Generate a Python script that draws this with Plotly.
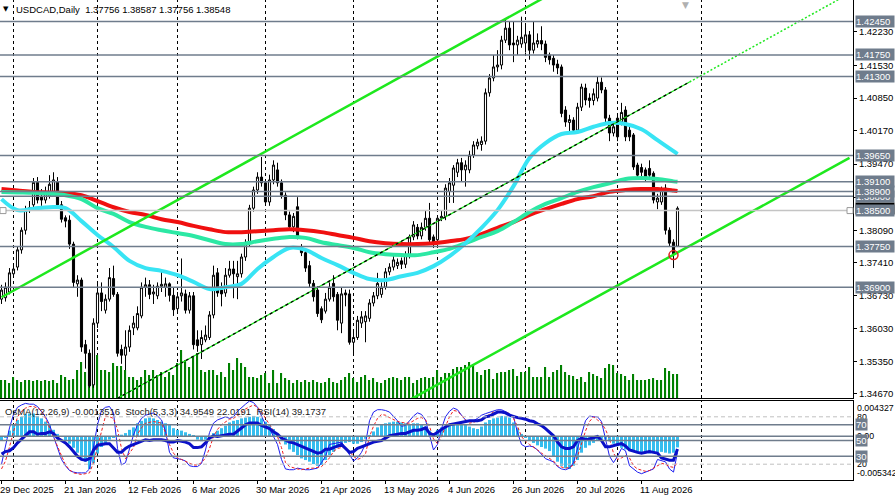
import pandas as pd
import plotly.graph_objects as go

# daily bars, this feed has no bar on 1 Jan
dates = [d for d in pd.bdate_range("2025-12-29", "2026-09-30") if d != pd.Timestamp("2026-01-01")]

open_ = [
    1.3665, 1.3668, 1.3680, 1.3718, 1.3732, 1.3768, 1.3809, 1.3851, 1.3862, 1.3909,
    1.3878, 1.3872, 1.3880, 1.3885, 1.3910, 1.3862, 1.3835, 1.3830, 1.3780, 1.3697,
    1.3705, 1.3570, 1.3552, 1.3486, 1.3615, 1.3678, 1.3642, 1.3665, 1.3708, 1.3675,
    1.3560, 1.3548, 1.3565, 1.3605, 1.3605, 1.3630, 1.3690, 1.3695, 1.3676, 1.3672,
    1.3692, 1.3690, 1.3697, 1.3673, 1.3645, 1.3672, 1.3676, 1.3642, 1.3672, 1.3580,
    1.3570, 1.3580, 1.3585, 1.3632, 1.3720, 1.3684, 1.3678, 1.3715, 1.3728, 1.3712,
    1.3718, 1.3753, 1.3782, 1.3855, 1.3893, 1.3920, 1.3908, 1.3868, 1.3914, 1.3935,
    1.3908, 1.3882, 1.3841, 1.3816, 1.3858, 1.3775, 1.3762, 1.3735, 1.3698, 1.3684,
    1.3645, 1.3640, 1.3665, 1.3698, 1.3675, 1.3615, 1.3678, 1.3676, 1.3575, 1.3585,
    1.3615, 1.3618, 1.3625, 1.3657, 1.3672, 1.3675, 1.3690, 1.3722, 1.3732, 1.3735,
    1.3745, 1.3738, 1.3757, 1.3795, 1.3815, 1.3797, 1.3815, 1.3834, 1.3795, 1.3789,
    1.3834, 1.3838, 1.3890, 1.3903, 1.3930, 1.3950, 1.3935, 1.3935, 1.3966, 1.3985,
    1.3988, 1.3995, 1.4096, 1.4127, 1.4150, 1.4154, 1.4206, 1.4231, 1.4200, 1.4196,
    1.4198, 1.4200, 1.4217, 1.4185, 1.4198, 1.4205, 1.4198, 1.4175, 1.4168, 1.4156,
    1.4150, 1.4060, 1.4034, 1.4039, 1.4018, 1.4066, 1.4106, 1.4085, 1.4080, 1.4085,
    1.4118, 1.4102, 1.4043, 1.4012, 1.4043, 1.4035, 1.4060, 1.4018, 1.4008, 1.3945,
    1.3940, 1.3935, 1.3938, 1.3928, 1.3868, 1.3868, 1.3897, 1.3809, 1.3784, 1.37756,
]
high = [
    1.3695, 1.3700, 1.3730, 1.3740, 1.3775, 1.3815, 1.3860, 1.3870, 1.3918, 1.3920,
    1.3895, 1.3900, 1.3924, 1.3930, 1.3920, 1.3870, 1.3840, 1.3840, 1.3785, 1.3715,
    1.3710, 1.3580, 1.3560, 1.3625, 1.3700, 1.3700, 1.3675, 1.3730, 1.3735, 1.3680,
    1.3570, 1.3600, 1.3610, 1.3630, 1.3650, 1.3700, 1.3710, 1.3705, 1.3695, 1.3700,
    1.3725, 1.3710, 1.3700, 1.3690, 1.3680, 1.3750, 1.3685, 1.3680, 1.3680, 1.3600,
    1.3600, 1.3610, 1.3640, 1.3735, 1.3730, 1.3700, 1.3730, 1.3745, 1.3745, 1.3745,
    1.3760, 1.3790, 1.3862, 1.3900, 1.3930, 1.3962, 1.3915, 1.3925, 1.3955, 1.3950,
    1.3915, 1.3888, 1.3848, 1.3845, 1.3878, 1.3780, 1.3770, 1.3745, 1.3705, 1.3692,
    1.3650, 1.3678, 1.3700, 1.3715, 1.3680, 1.3690, 1.3685, 1.3685, 1.3600, 1.3630,
    1.3640, 1.3640, 1.3665, 1.3680, 1.3720, 1.3700, 1.3730, 1.3740, 1.3755, 1.3750,
    1.3752, 1.3765, 1.3800, 1.3828, 1.3822, 1.3825, 1.3851, 1.3866, 1.3800, 1.3840,
    1.3850, 1.3905, 1.3918, 1.3945, 1.3958, 1.3960, 1.3955, 1.3975, 1.3995, 1.4000,
    1.4005, 1.4105, 1.4135, 1.4175, 1.4185, 1.4215, 1.4250, 1.4245, 1.4245, 1.4215,
    1.4255, 1.4240, 1.4225, 1.4245, 1.4220, 1.4235, 1.4205, 1.4180, 1.4175, 1.4165,
    1.4155, 1.4068, 1.4050, 1.4045, 1.4075, 1.4115, 1.4115, 1.4095, 1.4105, 1.4130,
    1.4128, 1.4108, 1.4050, 1.4035, 1.4050, 1.4075, 1.4068, 1.4025, 1.4012, 1.3950,
    1.3948, 1.3940, 1.3955, 1.3932, 1.3885, 1.3900, 1.3905, 1.3815, 1.3790, 1.38587,
]
low = [
    1.3655, 1.3660, 1.3675, 1.3710, 1.3725, 1.3760, 1.3800, 1.3845, 1.3850, 1.3865,
    1.3860, 1.3865, 1.3875, 1.3880, 1.3855, 1.3825, 1.3815, 1.3770, 1.3690, 1.3670,
    1.3555, 1.3520, 1.3480, 1.3480, 1.3605, 1.3640, 1.3635, 1.3660, 1.3670, 1.3545,
    1.3530, 1.3517, 1.3555, 1.3590, 1.3600, 1.3625, 1.3670, 1.3665, 1.3655, 1.3665,
    1.3680, 1.3670, 1.3660, 1.3630, 1.3640, 1.3660, 1.3635, 1.3635, 1.3560, 1.3555,
    1.3540, 1.3575, 1.3580, 1.3625, 1.3670, 1.3650, 1.3670, 1.3710, 1.3667, 1.3665,
    1.3710, 1.3745, 1.3775, 1.3848, 1.3885, 1.3900, 1.3860, 1.3860, 1.3905, 1.3900,
    1.3875, 1.3830, 1.3810, 1.3805, 1.3790, 1.3755, 1.3722, 1.3690, 1.3660, 1.3628,
    1.3615, 1.3635, 1.3660, 1.3660, 1.3600, 1.3594, 1.3650, 1.3570, 1.3548, 1.3580,
    1.3605, 1.3575, 1.3618, 1.3650, 1.3665, 1.3668, 1.3685, 1.3715, 1.3725, 1.3728,
    1.3728, 1.3730, 1.3750, 1.3788, 1.3790, 1.3790, 1.3808, 1.3780, 1.3772, 1.3780,
    1.3828, 1.3830, 1.3866, 1.3866, 1.3920, 1.3910, 1.3900, 1.3928, 1.3960, 1.3978,
    1.3975, 1.3988, 1.4088, 1.4120, 1.4140, 1.4145, 1.4200, 1.4185, 1.4160, 1.4175,
    1.4190, 1.4180, 1.4165, 1.4178, 1.4190, 1.4185, 1.4160, 1.4155, 1.4140, 1.4135,
    1.4045, 1.4025, 1.4015, 1.4010, 1.4010, 1.4058, 1.4070, 1.4065, 1.4070, 1.4078,
    1.4095, 1.4035, 1.3995, 1.4005, 1.3995, 1.4028, 1.3995, 1.3995, 1.3935, 1.3915,
    1.3922, 1.3912, 1.3918, 1.3865, 1.3853, 1.3862, 1.3800, 1.3775, 1.3730, 1.37756,
]
close_ = [
    1.3684, 1.3690, 1.3720, 1.3728, 1.3768, 1.3809, 1.3851, 1.3856, 1.3909, 1.3872,
    1.3872, 1.3887, 1.3905, 1.3914, 1.3862, 1.3832, 1.3828, 1.3780, 1.3700, 1.3705,
    1.3565, 1.3552, 1.3484, 1.3615, 1.3678, 1.3660, 1.3665, 1.3710, 1.3675, 1.3552,
    1.3548, 1.3565, 1.3600, 1.3615, 1.3635, 1.3690, 1.3695, 1.3675, 1.3680, 1.3692,
    1.3696, 1.3697, 1.3673, 1.3643, 1.3670, 1.3678, 1.3642, 1.3672, 1.3570, 1.3568,
    1.3585, 1.3590, 1.3632, 1.3715, 1.3678, 1.3676, 1.3715, 1.3728, 1.3718, 1.3718,
    1.3753, 1.3782, 1.3855, 1.3893, 1.3920, 1.3908, 1.3868, 1.3914, 1.3945, 1.3908,
    1.3882, 1.3841, 1.3816, 1.3838, 1.3797, 1.3762, 1.3730, 1.3698, 1.3670, 1.3635,
    1.3622, 1.3665, 1.3690, 1.3670, 1.3621, 1.3676, 1.3674, 1.3575, 1.3585, 1.3621,
    1.3628, 1.3630, 1.3657, 1.3672, 1.3698, 1.3690, 1.3722, 1.3732, 1.3747, 1.3742,
    1.3738, 1.3757, 1.3795, 1.3820, 1.3797, 1.3815, 1.3834, 1.3789, 1.3782, 1.3834,
    1.3838, 1.3897, 1.3908, 1.3939, 1.3950, 1.3935, 1.3945, 1.3966, 1.3987, 1.3993,
    1.3995, 1.4096, 1.4127, 1.4150, 1.4154, 1.4206, 1.4231, 1.4196, 1.4196, 1.4206,
    1.4212, 1.4217, 1.4185, 1.4200, 1.4205, 1.4198, 1.4170, 1.4165, 1.4154, 1.4148,
    1.4053, 1.4035, 1.4040, 1.4018, 1.4066, 1.4108, 1.4081, 1.4080, 1.4094, 1.4118,
    1.4102, 1.4043, 1.4012, 1.4025, 1.4004, 1.4055, 1.4004, 1.4004, 1.3941, 1.3924,
    1.3930, 1.3920, 1.3924, 1.3872, 1.3876, 1.3893, 1.3809, 1.3782, 1.3760, 1.38548,
]
volume = [
    18, 18, 15, 21, 18, 16, 18, 18, 17, 18,
    17, 18, 17, 18, 15, 23, 21, 18, 19, 28,
    36, 26, 45, 35, 43, 28, 28, 26, 35, 32,
    32, 28, 21, 21, 18, 21, 28, 23, 28, 23,
    26, 21, 26, 23, 35, 48, 38, 31, 41, 45,
    28, 26, 28, 28, 23, 26, 21, 35, 28, 40,
    35, 31, 21, 21, 20, 23, 25, 15, 28, 15,
    25, 20, 18, 15, 18, 16, 18, 16, 18, 16,
    15, 16, 20, 16, 15, 18, 21, 25, 20, 16,
    21, 23, 18, 20, 16, 15, 18, 20, 21, 20,
    18, 21, 21, 15, 18, 20, 21, 20, 21, 28,
    21, 25, 25, 29, 31, 31, 33, 36, 34, 26,
    23, 28, 29, 19, 25, 26, 26, 28, 29, 22,
    26, 26, 31, 21, 21, 21, 31, 21, 26, 28,
    33, 26, 23, 22, 19, 21, 16, 26, 24, 22,
    20, 30, 34, 33, 25, 24, 22, 18, 24, 18,
    18, 18, 19, 20, 18, 18, 30, 27, 24, 24,
]

# moving averages read every 4th bar
ma_bars = list(range(0, 169, 4)) + [169]
ma_fast = [
    1.3874, 1.3851, 1.3854, 1.3857, 1.3855, 1.3828, 1.3799, 1.3774, 1.3745, 1.3730,
    1.3724, 1.3715, 1.3701, 1.3686, 1.3690, 1.3697, 1.3728, 1.3753, 1.3772, 1.3768,
    1.3751, 1.3736, 1.3720, 1.3707, 1.3705, 1.3713, 1.3720, 1.3734, 1.3755, 1.3782,
    1.3814, 1.3851, 1.3901, 1.3960, 1.3991, 1.4010, 1.4014, 1.4025, 1.4033, 1.4031,
    1.4020, 1.3997, 1.3974, 1.3968,
]
ma_mid = [
    1.3889, 1.3888, 1.3887, 1.3885, 1.3882, 1.3874, 1.3855, 1.3843, 1.3826, 1.3816,
    1.3809, 1.3803, 1.3797, 1.3788, 1.3780, 1.3780, 1.3786, 1.3791, 1.3795, 1.3793,
    1.3784, 1.3778, 1.3772, 1.3763, 1.3759, 1.3757, 1.3757, 1.3763, 1.3770, 1.3782,
    1.3795, 1.3807, 1.3826, 1.3847, 1.3864, 1.3876, 1.3889, 1.3899, 1.3907, 1.3916,
    1.3918, 1.3916, 1.3911, 1.3910,
]
ma_slow = [
    1.3895, 1.3892, 1.3889, 1.3888, 1.3887, 1.3882, 1.3870, 1.3857, 1.3847, 1.3841,
    1.3832, 1.3826, 1.3818, 1.3811, 1.3805, 1.3805, 1.3807, 1.3809, 1.3811, 1.3809,
    1.3805, 1.3799, 1.3793, 1.3786, 1.3782, 1.3780, 1.3780, 1.3782, 1.3786, 1.3791,
    1.3801, 1.3814, 1.3826, 1.3841, 1.3853, 1.3864, 1.3874, 1.3880, 1.3889, 1.3893,
    1.3895, 1.3895, 1.3892, 1.3891,
]

osma = [
    -0.0005, -0.0002, 0.0007, 0.0014, 0.0020, 0.0024, 0.0027, 0.0028, 0.0028, 0.0025,
    0.0022, 0.0018, 0.0014, 0.0008, 0.0003, 0.0000, -0.0005, -0.0009, -0.0014, -0.0020,
    -0.0026, -0.0031, -0.0040, -0.0033, -0.0021, -0.0013, -0.0008, -0.0004, -0.0001, 0.0001,
    0.0002, 0.0004, 0.0008, 0.0011, 0.0016, 0.0019, 0.0022, 0.0023, 0.0022, 0.0020,
    0.0018, 0.0016, 0.0014, 0.0010, 0.0008, 0.0007, 0.0005, 0.0003, 0.0001, -0.0004,
    -0.0006, -0.0004, 0.0000, 0.0004, 0.0007, 0.0010, 0.0013, 0.0017, 0.0019, 0.0020,
    0.0022, 0.0023, 0.0024, 0.0025, 0.0024, 0.0022, 0.0018, 0.0014, 0.0009, 0.0002,
    -0.0004, -0.0010, -0.0016, -0.0019, -0.0023, -0.0027, -0.0029, -0.0031, -0.0034, -0.0036,
    -0.0035, -0.0029, -0.0023, -0.0019, -0.0014, -0.0010, -0.0008, -0.0007, -0.0009, -0.0009,
    -0.0007, -0.0003, 0.0001, 0.0006, 0.0011, 0.0014, 0.0016, 0.0017, 0.0018, 0.0018,
    0.0017, 0.0016, 0.0015, 0.0016, 0.0016, 0.0015, 0.0012, 0.0007, 0.0004, 0.0008,
    0.0011, 0.0013, 0.0014, 0.0015, 0.0015, 0.0015, 0.0014, 0.0012, 0.0010, 0.0009,
    0.0012, 0.0017, 0.0020, 0.0022, 0.0023, 0.0025, 0.0025, 0.0023, 0.0017, 0.0010,
    0.0003, -0.0002, -0.0005, -0.0008, -0.0011, -0.0013, -0.0015, -0.0018, -0.0025, -0.0031,
    -0.0036, -0.0039, -0.0040, -0.0036, -0.0029, -0.0020, -0.0014, -0.0011, -0.0008, -0.0005,
    -0.0003, -0.0004, -0.0006, -0.0009, -0.0012, -0.0014, -0.0016, -0.0018, -0.0019, -0.0020,
    -0.0020, -0.0020, -0.0021, -0.0020, -0.0019, -0.0019, -0.0020, -0.0021, -0.0020, -0.0013516,
]
stoch_k = [
    20, 42, 66, 83, 92, 95, 97, 96, 96, 93,
    86, 80, 70, 56, 40, 26, 18, 12, 10, 9,
    9, 9, 14, 40, 70, 88, 92, 93, 85, 40,
    19, 22, 40, 57, 70, 78, 82, 84, 85, 81,
    76, 62, 35, 28, 27, 26, 24, 18, 17, 17,
    21, 38, 60, 72, 76, 78, 80, 78, 80, 87,
    92, 96, 100, 98, 92, 82, 70, 65, 55, 45,
    26, 14, 13, 13, 15, 14, 13, 13, 14, 15,
    22, 30, 45, 46, 47, 48, 40, 32, 24, 28,
    35, 46, 75, 86, 89, 89, 88, 86, 81, 75,
    68, 69, 75, 81, 85, 83, 76, 57, 38, 45,
    65, 80, 87, 91, 89, 82, 76, 74, 75, 78,
    82, 84, 86, 88, 89, 89, 87, 84, 80, 60,
    45, 42, 43, 42, 38, 32, 27, 25, 23, 17,
    14, 13, 15, 22, 40, 58, 75, 81, 80, 80,
    74, 52, 30, 22, 30, 40, 37, 18, 14, 10,
    8, 10, 12, 14, 26, 24, 23, 14, 10, 34.9549,
]
stoch_d = [
    14, 24, 42, 62, 80, 87, 91, 93, 93, 91,
    88, 78, 66, 55, 42, 30, 19, 13, 9, 8,
    7, 8, 9, 22, 42, 62, 81, 80, 78, 64,
    40, 27, 34, 41, 58, 66, 72, 73, 74, 73,
    72, 60, 45, 34, 28, 26, 24, 21, 19, 19,
    22, 28, 40, 55, 64, 70, 74, 77, 78, 81,
    85, 90, 93, 95, 92, 87, 78, 70, 63, 55,
    41, 22, 17, 15, 14, 13, 14, 15, 15, 16,
    17, 22, 28, 36, 40, 41, 41, 36, 30, 26,
    28, 33, 55, 68, 78, 83, 82, 79, 76, 74,
    73, 72, 72, 75, 78, 79, 76, 68, 52, 46,
    55, 68, 80, 88, 87, 82, 76, 72, 73, 75,
    77, 80, 83, 86, 87, 86, 86, 84, 78, 68,
    55, 49, 45, 42, 38, 34, 31, 27, 24, 18,
    16, 15, 16, 19, 30, 46, 62, 74, 80, 76,
    72, 64, 52, 34, 26, 28, 31, 28, 18, 14,
    12, 11, 12, 15, 19, 21, 20, 17, 16, 22.0191,
]
rsi = [
    33, 36, 37, 41, 47, 52, 56, 61, 61, 58,
    59, 59, 61, 59, 53, 50, 47, 42, 36, 30,
    26, 25, 27, 38, 44, 45, 46, 46, 40, 35,
    35, 40, 43, 45, 47, 50, 51, 50, 51, 51,
    51, 50, 48, 48, 50, 49, 48, 46, 41, 41,
    42, 47, 53, 56, 55, 56, 57, 58, 58, 62,
    66, 70, 72, 72, 72, 69, 67, 65, 61, 58,
    53, 50, 48, 47, 45, 43, 41, 38, 36, 34,
    35, 39, 39, 41, 44, 45, 40, 35, 36, 40,
    42, 44, 47, 48, 49, 50, 53, 56, 57, 58,
    59, 59, 61, 63, 63, 64, 66, 59, 57, 61,
    64, 67, 70, 71, 72, 73, 74, 75, 75, 75,
    76, 80, 81, 83, 86, 86, 85, 82, 80, 79,
    78, 77, 75, 74, 71, 69, 65, 61, 56, 48,
    42, 40, 40, 42, 50, 53, 51, 52, 54, 55,
    50, 42, 42, 44, 45, 46, 43, 38, 36, 35,
    34, 35, 36, 35, 34, 28, 26, 25, 25, 39.1737,
]

# drawn objects: channel anchors (bar, price), horizontal levels
channel_upper = ([0, 140], [1.36690, 1.43147])
channel_lower = ([100, 212], [1.34453, 1.39600])
channel_mid = ([29, 172], [1.34580, 1.41186])
channel_mid_ray = ([172, 212], [1.41186, 1.43034])
levels = [1.3690, 1.3775, 1.3880, 1.3890, 1.3910, 1.3965, 1.4130, 1.4175, 1.4245]
silver_level = 1.3850
alert_bar, alert_price = 168, 1.3757

price_ticks = [1.42230, 1.41530, 1.40850, 1.40170, 1.39470, 1.38780,
               1.38090, 1.37410, 1.36730, 1.36030, 1.35350, 1.34670]
date_labels = ["29 Dec 2025", "21 Jan 2026", "12 Feb 2026", "6 Mar 2026", "30 Mar 2026",
               "21 Apr 2026", "13 May 2026", "4 Jun 2026", "26 Jun 2026", "20 Jul 2026",
               "11 Aug 2026"]

FONT = "Liberation Sans"
SLATE = "#6F7C8C"
LIME = "#1EE81E"

bars = list(range(len(close_)))
pos = {d: k for k, d in enumerate(dates)}
label_bars = [pos[pd.Timestamp(s)] for s in date_labels]
month_bars = [k for k in range(1, len(dates)) if dates[k].month != dates[k - 1].month]

fig = go.Figure()
fig.add_trace(go.Bar(x=bars, y=volume, width=0.3, marker=dict(color="#008000", line=dict(width=0)),
                     xaxis="x", yaxis="y"))
fig.add_trace(go.Candlestick(
    x=bars, open=open_, high=high, low=low, close=close_,
    increasing=dict(line=dict(color="black", width=1), fillcolor="white"),
    decreasing=dict(line=dict(color="black", width=1), fillcolor="black"),
    whiskerwidth=0, xaxis="x", yaxis="y2"))
for vals, col in [(ma_slow, "#F01010"), (ma_mid, "#2CE8A4"), (ma_fast, "#38E4F4")]:
    fig.add_trace(go.Scatter(x=ma_bars, y=vals, mode="lines", line=dict(color=col, width=4, shape="spline"),
                             xaxis="x", yaxis="y2"))
for xs, ys in [channel_upper, channel_lower]:
    fig.add_trace(go.Scatter(x=xs, y=ys, mode="lines", line=dict(color=LIME, width=2.5), xaxis="x", yaxis="y2"))
fig.add_trace(go.Scatter(x=channel_mid[0], y=channel_mid[1], mode="lines", line=dict(color=LIME, width=1.3),
                         xaxis="x", yaxis="y2"))
fig.add_trace(go.Scatter(x=channel_mid[0], y=channel_mid[1], mode="lines",
                         line=dict(color="black", width=1.3, dash="3px,3px"), xaxis="x", yaxis="y2"))
fig.add_trace(go.Scatter(x=channel_mid_ray[0], y=channel_mid_ray[1], mode="lines",
                         line=dict(color=LIME, width=1.5, dash="2px,2px"), xaxis="x", yaxis="y2"))
fig.add_trace(go.Scatter(x=[alert_bar], y=[alert_price], mode="markers",
                         marker=dict(symbol="circle-open", size=9, color="#E02020", line=dict(width=1.5)),
                         xaxis="x", yaxis="y2"))

# lower window
fig.add_trace(go.Bar(x=bars, y=osma, width=0.75, marker=dict(color="#36BDEE", line=dict(width=0)),
                     xaxis="x2", yaxis="y3"))
fig.add_trace(go.Scatter(x=bars, y=stoch_k, mode="lines", line=dict(color="#1E1EF0", width=1),
                         xaxis="x2", yaxis="y4"))
fig.add_trace(go.Scatter(x=bars, y=stoch_d, mode="lines", line=dict(color="#F02020", width=1, dash="3px,2px"),
                         xaxis="x2", yaxis="y4"))
fig.add_trace(go.Scatter(x=bars, y=rsi, mode="lines", line=dict(color="#0A10C8", width=3),
                         xaxis="x2", yaxis="y4"))

shapes = []
for k in month_bars:
    shapes.append(dict(type="line", xref="x", yref="y domain", x0=k, x1=k, y0=0, y1=1, layer="below",
                       line=dict(color="black", width=1, dash="3px,3px")))
    shapes.append(dict(type="line", xref="x2", yref="y3 domain", x0=k, x1=k, y0=0, y1=1, layer="below",
                       line=dict(color="black", width=1, dash="3px,3px")))
for lv in levels:
    shapes.append(dict(type="line", xref="x domain", yref="y2", x0=0, x1=1, y0=lv, y1=lv,
                       line=dict(color=SLATE, width=1.5)))
shapes.append(dict(type="line", xref="x domain", yref="y2", x0=0, x1=1, y0=silver_level, y1=silver_level,
                   line=dict(color="#C4C4C4", width=1.5)))
for xa in [3 / 853, 850 / 853]:
    shapes.append(dict(type="rect", xref="x domain", yref="y2", xsizemode="pixel", ysizemode="pixel",
                       xanchor=xa, yanchor=silver_level, x0=-3, x1=3, y0=-3, y1=3,
                       line=dict(color="#9A9A9A", width=1), fillcolor="white"))
for lv in [70, 50, 30]:
    shapes.append(dict(type="line", xref="x2 domain", yref="y4", x0=0, x1=1, y0=lv, y1=lv,
                       line=dict(color=SLATE, width=1.5)))
for lv in [80, 20]:
    shapes.append(dict(type="line", xref="x2 domain", yref="y4", x0=0, x1=1, y0=lv, y1=lv,
                       line=dict(color="#C0C0C0", width=1, dash="4px,3px")))
shapes.append(dict(type="line", xref="x2 domain", yref="y3", x0=0, x1=1, y0=0, y1=0,
                   line=dict(color=SLATE, width=1.5)))

ann = []
ann.append(dict(xref="paper", yref="paper", x=0, y=1, xanchor="left", yanchor="top", xshift=1, yshift=-3,
                text="▼", showarrow=False, font=dict(family="DejaVu Sans", size=7, color="black")))
ann.append(dict(xref="paper", yref="paper", x=0, y=1, xanchor="left", yanchor="top", xshift=14, yshift=-2,
                text="USDCAD,Daily\u00a0\u00a01.37756 1.38587 1.37756 1.38548", showarrow=False,
                font=dict(family=FONT, size=9.5, color="black")))
ann.append(dict(xref="x", yref="paper", x=bars[-1] + 2, y=1, xanchor="center", yanchor="top", yshift=2,
                text="▼", showarrow=False, font=dict(family="DejaVu Sans", size=9, color="#B0B0B0")))
ann.append(dict(xref="paper", yref="y3 domain", x=0, y=1, xanchor="left", yanchor="top", xshift=3, yshift=-3,
                text="OsMA(12,26,9) -0.0013516\u00a0\u00a0Stoch(5,3,3) 34.9549 22.0191\u00a0\u00a0RSI(14) 39.1737",
                showarrow=False, font=dict(family=FONT, size=9.5, color="#202020")))
for k, s in zip(label_bars, date_labels):
    ann.append(dict(xref="x2", yref="paper", x=k, y=0, xanchor="left", yanchor="top", xshift=-4, yshift=-2,
                    text=s, showarrow=False, font=dict(family=FONT, size=9.5, color="black")))


def price_box(y, text, bg, yref="y2", w=38):
    return dict(xref="paper", yref=yref, x=1, y=y, xanchor="left", yanchor="middle", xshift=2,
                text=text, showarrow=False, bgcolor=bg, borderpad=0, width=w, align="left",
                font=dict(family=FONT, size=9.5, color="white"))


ann.append(price_box(close_[-1], f"{close_[-1]:.5f}", "black"))
for lv in levels:
    ann.append(price_box(lv, f"{lv:.5f}", SLATE))
ann.append(price_box(silver_level, f"{silver_level:.5f}", SLATE))

# right scale texts of the lower window
for y, t, yref, anc in [(0.004327, "0.004327", "y3", "top"), (80, "80", "y4", "middle"),
                        (0, "0.00", "y3", "middle"), (20, "20", "y4", "middle"),
                        (-0.005342, "-0.005342", "y3", "bottom")]:
    ann.append(dict(xref="paper", yref=yref, x=1, y=y, xanchor="left", yanchor=anc, xshift=2,
                    text=t, showarrow=False, font=dict(family=FONT, size=8.8, color="black")))
for lv in [70, 50, 30]:
    ann.append(price_box(lv, str(lv), SLATE, yref="y4", w=11))

fig.update_layout(
    width=895, height=501,
    margin=dict(l=0, r=42, t=0, b=21),
    paper_bgcolor="white", plot_bgcolor="white",
    showlegend=False, hovermode=False, barmode="overlay", boxgap=0.25,
    font=dict(family=FONT, size=9.5, color="black"),
    xaxis=dict(domain=[0, 1], range=[-0.375, 212.875], anchor="y", rangeslider=dict(visible=False),
               showticklabels=False, showgrid=False, zeroline=False, showline=True, linecolor="black",
               linewidth=1, ticks=""),
    xaxis2=dict(domain=[0, 1], matches="x", anchor="y3", showgrid=False, zeroline=False,
                showline=True, linecolor="black", linewidth=1, mirror=True, ticks="outside", ticklen=3,
                tickcolor="black", tickvals=label_bars, showticklabels=False),
    yaxis=dict(domain=[82 / 480, 1], range=[0, 398], visible=False, anchor="x"),
    yaxis2=dict(overlaying="y", anchor="x", side="right", range=[1.34586, 1.42898],
                tickvals=price_ticks, tickformat=".5f", ticks="outside", ticklen=3, tickcolor="black",
                showline=True, linecolor="black", linewidth=1, showgrid=False, zeroline=False,
                tickfont=dict(family=FONT, size=9.5, color="black")),
    yaxis3=dict(domain=[0, 79 / 480], range=[-0.005342, 0.004327], anchor="x2", side="right",
                showticklabels=False, ticks="", showline=True, linecolor="black", linewidth=1,
                showgrid=False, zeroline=False),
    yaxis4=dict(overlaying="y3", anchor="x2", range=[0, 100], visible=False),
    shapes=shapes,
    annotations=ann,
)

# page margin off so the chart sits at the window's top-left corner
fig.write_html("out.html", config={"displayModeBar": False},
               post_script="document.body.style.margin='0';")
